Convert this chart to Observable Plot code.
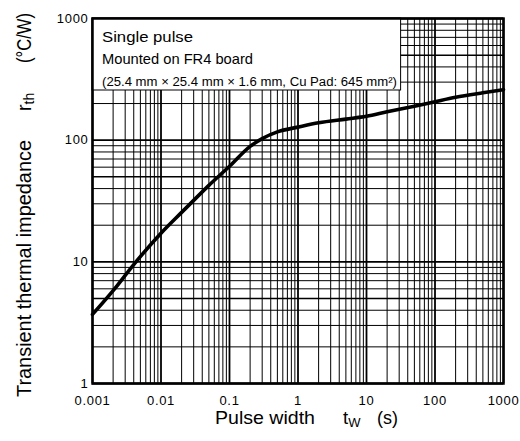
<!DOCTYPE html>
<html><head><meta charset="utf-8">
<script src="https://cdn.jsdelivr.net/npm/d3@7"></script>
<script src="https://cdn.jsdelivr.net/npm/@observablehq/plot@0.6"></script>
<style>
body{margin:0;background:#fff}
</style>
</head><body><div id="chart"></div><script>
// Data
const pulseWidth = [0.001, 0.002, 0.004, 0.01, 0.02, 0.03, 0.05, 0.1, 0.2, 0.3, 0.5, 1, 2, 5, 10, 20, 50, 100, 200, 500, 1000];
const impedance  = [3.7, 5.8, 9.5, 17.2, 25.5, 32, 42.5, 61, 89, 103, 117, 128, 139, 149, 157, 171, 190, 207, 225, 245, 260];
const xTicks = [0.001, 0.01, 0.1, 1, 10, 100, 1000];
const yTicks = [1, 10, 100, 1000];
const multiples = [1, 2, 3, 4, 5, 6, 7, 8, 9];
const noteLines = ["Single pulse", "Mounted on FR4 board", "(25.4 mm \u00d7 25.4 mm \u00d7 1.6 mm, Cu Pad: 645 mm\u00b2)"];
const noteBox = {x1: 0.001, x2: 32, y1: 256, y2: 1000};
const xTitle = ["Pulse width", "t", "W", "(s)"];
const yTitle = ["Transient thermal impedance", "r", "th", "(\u00b0C/W)"];

const font = '"Liberation Sans", Arial, Helvetica, sans-serif';
const gridX = xTicks.slice(0, -1).flatMap(d => multiples.map(k => ({v: d * k, k}))).concat([{v: 1000, k: 1}]);
const gridY = yTicks.slice(0, -1).flatMap(d => multiples.map(k => ({v: d * k, k}))).concat([{v: 1000, k: 1}]);
const data = pulseWidth.map((x, i) => ({x, y: impedance[i]}));

const plot = Plot.plot({
  width: 520, height: 441,
  marginLeft: 92, marginRight: 17, marginTop: 18, marginBottom: 58,
  style: {fontFamily: font, fontSize: "13px", color: "#000", background: "#fff"},
  x: {type: "log", domain: [0.001, 1000]},
  y: {type: "log", domain: [1, 1000]},
  marks: [
    Plot.ruleX(gridX, {x: "v", stroke: "#000", strokeWidth: d => d.k === 1 ? 1.8 : 1}),
    Plot.ruleY(gridY, {y: "v", stroke: "#000", strokeWidth: d => d.k === 1 ? 1.8 : d.k === 5 ? 1.5 : 1}),
    Plot.rect([noteBox], {x1: "x1", x2: "x2", y1: "y1", y2: "y2", fill: "#fff", stroke: "#000", strokeWidth: 1}),
    Plot.line(data, {x: "x", y: "y", stroke: "#000", strokeWidth: 3.6, curve: "monotone-x"}),
    Plot.frame({stroke: "#000", strokeWidth: 2.5}),
    Plot.axisX({ticks: xTicks, tickFormat: d => String(d), tickSize: 0, tickPadding: 12, label: null, fontSize: 13}),
    Plot.axisY({ticks: yTicks, tickFormat: d => String(d), tickSize: 0, tickPadding: 4, label: null, fontSize: 13})
  ]
});

const svg = d3.select(plot);
svg.selectAll('[aria-label="x-axis tick label"] text, [aria-label="y-axis tick label"] text').attr("letter-spacing", 0.7);

// Note text inside the box
const note = svg.append("g").attr("font-family", font).attr("fill", "#000").attr("text-anchor", "start");
note.append("text").attr("x", 102).attr("y", 42).attr("font-size", 15)
  .attr("textLength", 91).attr("lengthAdjust", "spacingAndGlyphs").text(noteLines[0]);
note.append("text").attr("x", 102).attr("y", 64).attr("font-size", 15)
  .attr("textLength", 151).attr("lengthAdjust", "spacingAndGlyphs").text(noteLines[1]);
note.append("text").attr("x", 102).attr("y", 86).attr("font-size", 12)
  .attr("textLength", 295).attr("lengthAdjust", "spacingAndGlyphs").text(noteLines[2]);

// X title
const xt = svg.append("g").attr("font-family", font).attr("fill", "#000").attr("font-size", 18.5).attr("text-anchor", "start");
xt.append("text").attr("x", 215).attr("y", 424).attr("textLength", 100).attr("lengthAdjust", "spacingAndGlyphs").text(xTitle[0]);
const tw = xt.append("text").attr("x", 343).attr("y", 424);
tw.append("tspan").text(xTitle[1]);
tw.append("tspan").attr("font-size", 13).attr("dy", 3).text(xTitle[2]);
xt.append("text").attr("x", 377).attr("y", 424).attr("textLength", 21).attr("lengthAdjust", "spacingAndGlyphs").text(xTitle[3]);

// Y title (rotated)
const yt = svg.append("g").attr("transform", "rotate(-90)").attr("font-family", font).attr("fill", "#000").attr("font-size", 19.5).attr("text-anchor", "start");
yt.append("text").attr("x", -397).attr("y", 31).attr("textLength", 257).attr("lengthAdjust", "spacingAndGlyphs").text(yTitle[0]);
const rt = yt.append("text").attr("x", -111).attr("y", 31);
rt.append("tspan").text(yTitle[1]);
rt.append("tspan").attr("font-size", 14).attr("dy", 3).text(yTitle[2]);
yt.append("text").attr("x", -63).attr("y", 31).attr("textLength", 50).attr("lengthAdjust", "spacingAndGlyphs").text(yTitle[3]);

document.getElementById("chart").appendChild(plot);
</script></body></html>
